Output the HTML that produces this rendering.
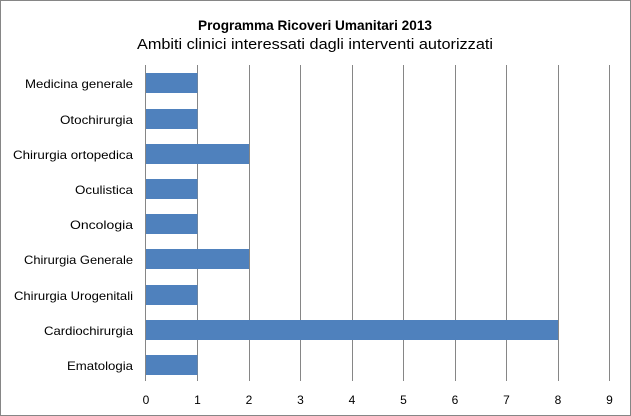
<!DOCTYPE html>
<html><head><style>
body{margin:0;background:#fff}
svg{display:block;font-family:"Liberation Sans",sans-serif}
</style></head><body>
<svg width="631" height="416" xmlns="http://www.w3.org/2000/svg">
<rect x="0.5" y="0.5" width="630" height="415" fill="#fff" stroke="#868686"/>
<text x="315" y="30" text-anchor="middle" font-size="14" font-weight="bold" fill="#000" textLength="234" lengthAdjust="spacingAndGlyphs">Programma Ricoveri Umanitari 2013</text>
<text x="315" y="49" text-anchor="middle" font-size="15" fill="#000" textLength="356" lengthAdjust="spacingAndGlyphs">Ambiti clinici interessati dagli interventi autorizzati</text>
<g stroke="#868686" stroke-width="1">
<line x1="197.5" y1="65" x2="197.5" y2="381"/><line x1="249.5" y1="65" x2="249.5" y2="381"/>
<line x1="300.5" y1="65" x2="300.5" y2="381"/><line x1="352.5" y1="65" x2="352.5" y2="381"/>
<line x1="403.5" y1="65" x2="403.5" y2="381"/><line x1="455.5" y1="65" x2="455.5" y2="381"/>
<line x1="506.5" y1="65" x2="506.5" y2="381"/><line x1="558.5" y1="65" x2="558.5" y2="381"/>
<line x1="609.5" y1="65" x2="609.5" y2="381"/>
</g>
<g fill="#4f81bd">
<rect x="146" y="73" width="51.5" height="20"/>
<rect x="146" y="109" width="51.5" height="20"/>
<rect x="146" y="144" width="103" height="20"/>
<rect x="146" y="179" width="51.5" height="20"/>
<rect x="146" y="214" width="51.5" height="20"/>
<rect x="146" y="249" width="103" height="20"/>
<rect x="146" y="285" width="51.5" height="20"/>
<rect x="146" y="320" width="412" height="20"/>
<rect x="146" y="355" width="51.5" height="20"/>
</g>
<line x1="145.5" y1="65" x2="145.5" y2="381" stroke="#868686"/>
<g font-size="12" fill="#000" text-anchor="end" lengthAdjust="spacingAndGlyphs">
<text x="133" y="88" textLength="108" lengthAdjust="spacingAndGlyphs">Medicina generale</text>
<text x="133" y="124" textLength="73" lengthAdjust="spacingAndGlyphs">Otochirurgia</text>
<text x="133" y="159" textLength="120" lengthAdjust="spacingAndGlyphs">Chirurgia ortopedica</text>
<text x="133" y="194" textLength="58" lengthAdjust="spacingAndGlyphs">Oculistica</text>
<text x="133" y="229" textLength="63" lengthAdjust="spacingAndGlyphs">Oncologia</text>
<text x="133" y="264" textLength="109" lengthAdjust="spacingAndGlyphs">Chirurgia Generale</text>
<text x="133" y="300" textLength="119" lengthAdjust="spacingAndGlyphs">Chirurgia Urogenitali</text>
<text x="133" y="335" textLength="89" lengthAdjust="spacingAndGlyphs">Cardiochirurgia</text>
<text x="133" y="370" textLength="66" lengthAdjust="spacingAndGlyphs">Ematologia</text>
</g>
<g font-size="12" fill="#000" text-anchor="middle">
<text x="146" y="404">0</text><text x="197.5" y="404">1</text><text x="249" y="404">2</text>
<text x="300.5" y="404">3</text><text x="352" y="404">4</text><text x="403.5" y="404">5</text>
<text x="455" y="404">6</text><text x="506.5" y="404">7</text><text x="558" y="404">8</text>
<text x="609.5" y="404">9</text>
</g>
</svg>
</body></html>
